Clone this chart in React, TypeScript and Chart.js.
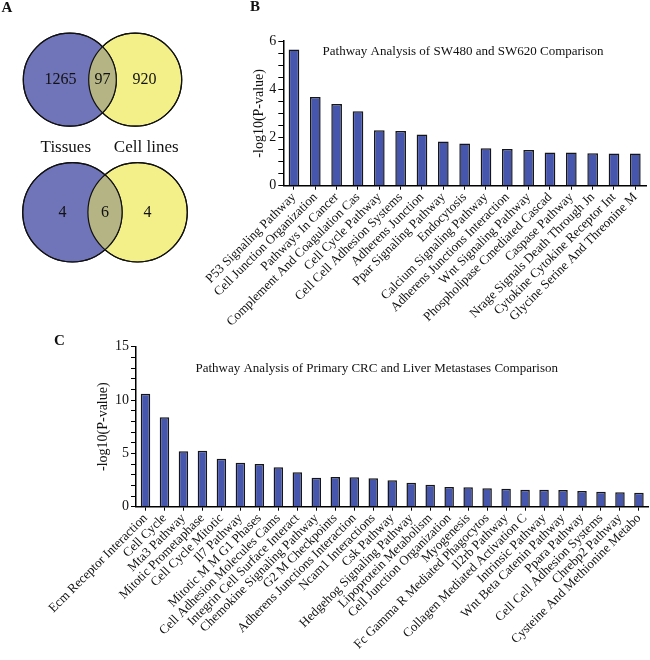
import React, { useEffect, useRef } from 'react';
import { Chart, registerables } from 'chart.js';

Chart.register(...registerables);

const FONT = "'Liberation Serif', 'Times New Roman', serif";
const BAR_FILL = '#4756ad';
const BAR_EDGE = '#161616';
const VENN_BLUE = '#7074b8';
const VENN_YELLOW = '#f3f08a';
const VENN_LENS = '#b5b484';

// ---- Panel B data ----
const bLabels = [
  'P53 Signaling Pathway',
  'Cell Junction Organization',
  'Pathways In Cancer',
  'Complement And Coagulation Cas',
  'Cell Cycle Pathway',
  'Cell Cell Adhesion Systems',
  'Adherens Junction',
  'Ppar Signaling Pathway',
  'Endocytosis',
  'Calcium Signaling Pathway',
  'Adherens Junctions Interaction',
  'Wnt Signaling Pathway',
  'Phospholipase Cmediated Cascad',
  'Caspase Pathway',
  'Nrage Signals Death Through Jn',
  'Cytokine Cytokine Receptor Int',
  'Glycine Serine And Threonine M',
];
const bValues = [5.65, 3.68, 3.39, 3.09, 2.3, 2.27, 2.12, 1.83, 1.75, 1.55, 1.52, 1.48, 1.38, 1.38, 1.35, 1.34, 1.34];
const bMajorTicks = [0, 2, 4, 6];
const bTitle = 'Pathway Analysis of SW480 and SW620 Comparison';

// ---- Panel C data ----
const cLabels = [
  'Ecm Receptor Interaction',
  'Cell Cycle',
  'Mta3 Pathway',
  'Mitotic Prometaphase',
  'Cell Cycle Mitotic',
  'Il7 Pathway',
  'Mitotic M M G1 Phases',
  'Cell Adhesion Molecules Cams',
  'Integrin Cell Surface Interact',
  'Chemokine Signaling Pathway',
  'G2 M Checkpoints',
  'Adherens Junctions Interaction',
  'Ncam1 Interactions',
  'Csk Pathway',
  'Hedgehog Signaling Pathway',
  'Lipoprotein Metabolism',
  'Cell Junction Organization',
  'Myogenesis',
  'Fc Gamma R Mediated Phagocytos',
  'Il2rb Pathway',
  'Collagen Mediated Activation C',
  'Intrinsic Pathway',
  'Wnt Beta Catenin Pathway',
  'Ppara Pathway',
  'Cell Cell Adhesion Systems',
  'Chrebp2 Pathway',
  'Cysteine And Methionine Metabo',
];
const cValues = [10.6, 8.38, 5.2, 5.25, 4.5, 4.13, 4.0, 3.69, 3.22, 2.72, 2.78, 2.75, 2.66, 2.47, 2.25, 2.06, 1.85, 1.82, 1.72, 1.69, 1.6, 1.6, 1.56, 1.47, 1.41, 1.35, 1.31];
const cMajorTicks = [0, 5, 10, 15];
const cTitle = 'Pathway Analysis of Primary CRC and Liver Metastases Comparison';

const yAxisTitle = '-log10(P-value)';

// ---- Panel A data (Venn) ----
const vennSetNames = ['Tissues', 'Cell lines'];
const vennLeftOnly = [1265, 4];
const vennShared = [97, 6];
const vennRightOnly = [920, 4];
// circle layout in venn units
const vennLeftX = [69.8, 72.4];
const vennRightX = [135.2, 137.6];
const vennCenterY = [79.7, 212.3];
const vennRadius = [46.5, 49.7];

const innerTitle = {
  id: 'innerTitle',
  afterDraw(chart: any, _args: any, opts: any) {
    if (!opts || !opts.text) return;
    const { ctx, chartArea } = chart;
    ctx.save();
    ctx.font = `${opts.size}px ${FONT}`;
    ctx.fillStyle = '#111';
    ctx.textAlign = 'center';
    ctx.textBaseline = 'middle';
    ctx.fillText(opts.text, (chartArea.left + chartArea.right) / 2 + opts.dx, chartArea.top + opts.dy);
    ctx.restore();
  },
};

function barConfig(labels: string[], values: number[], yMax: number, step: number, major: number[], title: string, g: any): any {
  return {
    type: 'bar',
    data: {
      labels,
      datasets: [
        {
          data: values,
          backgroundColor: BAR_FILL,
          borderColor: BAR_EDGE,
          borderWidth: 1.5,
          barPercentage: 0.5,
          categoryPercentage: 1,
        },
      ],
    },
    options: {
      responsive: false,
      animation: false,
      devicePixelRatio: 1,
      events: [],
      layout: { padding: { left: g.padLeft, top: g.padTop, right: g.padRight, bottom: 0 } },
      plugins: {
        legend: { display: false },
        tooltip: { enabled: false },
        innerTitle: { text: title, size: 13, dx: g.titleDx, dy: g.titleDy },
      },
      scales: {
        x: {
          offset: true,
          grid: { offset: false, drawOnChartArea: false, tickLength: 4, color: '#000', lineWidth: 1 },
          border: { display: true, color: '#000', width: 1.5 },
          ticks: {
            autoSkip: false,
            minRotation: 45,
            maxRotation: 45,
            padding: 0,
            color: '#111',
            font: { family: FONT, size: 13 },
          },
          afterFit: (s: any) => {
            s.height = g.xHeight;
          },
        },
        y: {
          min: 0,
          max: yMax,
          ticks: {
            stepSize: step,
            autoSkip: false,
            padding: 2,
            color: '#111',
            font: { family: FONT, size: 14 },
            callback: (v: any) => (major.includes(Number(v)) ? String(v) : ''),
          },
          grid: { drawOnChartArea: false, tickLength: 5, color: '#000', lineWidth: 1 },
          border: { display: true, color: '#000', width: 1.5 },
          title: {
            display: true,
            text: yAxisTitle,
            color: '#111',
            font: { family: FONT, size: 14 },
            padding: { top: 4, bottom: 4 },
          },
          afterFit: (s: any) => {
            s.width = g.yWidth;
          },
        },
      },
    },
    plugins: [innerTitle],
  };
}

const vennPlugin = {
  id: 'vennOverlay',
  afterDatasetsDraw(chart: any) {
    const { ctx } = chart;
    const m0 = chart.getDatasetMeta(0);
    const m1 = chart.getDatasetMeta(1);
    const yScale = chart.scales.y;
    m0.data.forEach((a: any, i: number) => {
      const b = m1.data[i];
      const ra = a.options.radius;
      const rb = b.options.radius;
      ctx.save();
      ctx.beginPath();
      ctx.arc(a.x, a.y, ra, 0, Math.PI * 2);
      ctx.clip();
      ctx.beginPath();
      ctx.arc(b.x, b.y, rb, 0, Math.PI * 2);
      ctx.fillStyle = VENN_LENS;
      ctx.fill();
      ctx.restore();

      ctx.save();
      ctx.strokeStyle = '#111';
      ctx.lineWidth = 1.2;
      ctx.beginPath();
      ctx.arc(a.x, a.y, ra, 0, Math.PI * 2);
      ctx.stroke();
      ctx.beginPath();
      ctx.arc(b.x, b.y, rb, 0, Math.PI * 2);
      ctx.stroke();

      ctx.fillStyle = '#111';
      ctx.font = `16px ${FONT}`;
      ctx.textAlign = 'center';
      ctx.textBaseline = 'middle';
      const lensMid = (b.x - rb + a.x + ra) / 2;
      ctx.fillText(String(vennLeftOnly[i]), a.x - 0.2 * ra, a.y);
      ctx.fillText(String(vennShared[i]), lensMid, a.y);
      ctx.fillText(String(vennRightOnly[i]), b.x + 0.2 * rb, b.y);
      ctx.restore();
    });
    // set names between the two diagrams
    const a0 = m0.data[0];
    const b0 = m1.data[0];
    const nameY = yScale.getPixelForValue((vennCenterY[0] + vennRadius[0] + vennCenterY[1] - vennRadius[1]) / 2) + 8;
    ctx.save();
    ctx.fillStyle = '#111';
    ctx.font = `17px ${FONT}`;
    ctx.textAlign = 'center';
    ctx.textBaseline = 'alphabetic';
    ctx.fillText(vennSetNames[0], a0.x - 4, nameY);
    ctx.fillText(vennSetNames[1], b0.x + 11, nameY);
    ctx.restore();
  },
};

function vennConfig(): any {
  return {
    type: 'bubble',
    data: {
      datasets: [
        {
          data: vennLeftX.map((x, i) => ({ x, y: vennCenterY[i], r: vennRadius[i] })),
          backgroundColor: VENN_BLUE,
          borderColor: '#111',
          borderWidth: 1.2,
          clip: false,
        },
        {
          data: vennRightX.map((x, i) => ({ x, y: vennCenterY[i], r: vennRadius[i] })),
          backgroundColor: VENN_YELLOW,
          borderColor: '#111',
          borderWidth: 1.2,
          clip: false,
        },
      ],
    },
    options: {
      responsive: false,
      animation: false,
      devicePixelRatio: 1,
      events: [],
      layout: { padding: 0, autoPadding: false },
      plugins: { legend: { display: false }, tooltip: { enabled: false } },
      scales: {
        x: { display: false, min: 0, max: 200 },
        y: { display: false, min: 0, max: 280, reverse: true },
      },
    },
    plugins: [vennPlugin],
  };
}

const letterStyle = (left: number, top: number): React.CSSProperties => ({
  position: 'absolute',
  left,
  top,
  font: `bold 15px ${FONT}`,
  lineHeight: '15px',
  color: '#111',
});

export default function App() {
  const vennRef = useRef<HTMLCanvasElement>(null);
  const bRef = useRef<HTMLCanvasElement>(null);
  const cRef = useRef<HTMLCanvasElement>(null);

  useEffect(() => {
    const charts: Chart[] = [];
    charts.push(new Chart(vennRef.current as HTMLCanvasElement, vennConfig()));
    charts.push(
      new Chart(
        bRef.current as HTMLCanvasElement,
        barConfig(bLabels, bValues, 6, 0.5, bMajorTicks, bTitle, {
          padLeft: 46.6,
          yWidth: 36.7,
          padTop: 41,
          padRight: 4,
          xHeight: 149.3,
          titleDx: -1.6,
          titleDy: 11,
        })
      )
    );
    charts.push(
      new Chart(
        cRef.current as HTMLCanvasElement,
        barConfig(cLabels, cValues, 15, 1, cMajorTicks, cTitle, {
          padLeft: 91,
          yWidth: 45,
          padTop: 11.7,
          padRight: 1,
          xHeight: 153.3,
          titleDx: -15.5,
          titleDy: 22.3,
        })
      )
    );
    return () => charts.forEach((c) => c.destroy());
  }, []);

  return (
    <div style={{ position: 'absolute', left: 0, top: 0, width: 650, height: 660, background: '#fff', overflow: 'hidden' }}>
      <canvas ref={vennRef} width={200} height={280} style={{ position: 'absolute', left: 0, top: 0 }} />
      <canvas ref={bRef} width={450} height={335} style={{ position: 'absolute', left: 200, top: 0 }} />
      <canvas ref={cRef} width={650} height={325} style={{ position: 'absolute', left: 0, top: 335 }} />
      <div style={letterStyle(1.5, 0)}>A</div>
      <div style={letterStyle(250, -1)}>B</div>
      <div style={letterStyle(54, 333)}>C</div>
    </div>
  );
}
